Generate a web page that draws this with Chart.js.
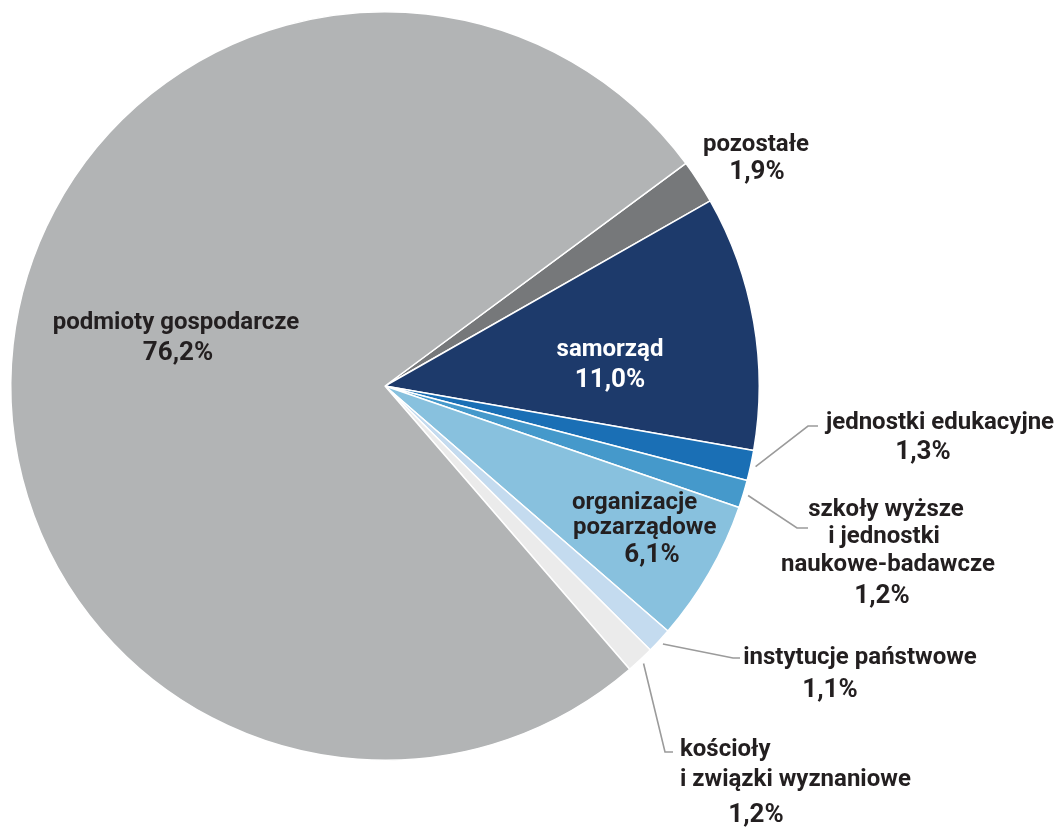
<!DOCTYPE html>
<html>
<head>
<meta charset="utf-8">
<script src="https://cdn.jsdelivr.net/npm/chart.js@4/dist/chart.umd.min.js"></script>
<style>
  html, body { margin: 0; padding: 0; background: #fff; }
  #wrap { width: 1062px; height: 831px; }
</style>
</head>
<body>
<div id="wrap"><canvas id="pie" width="1062" height="831"></canvas></div>
<script>
// dane (kolejność zgodnie z ruchem wskazówek zegara, od "pozostałe")
const categories = ['pozostałe', 'samorząd', 'jednostki edukacyjne', 'szkoły wyższe i jednostki naukowe-badawcze',
    'organizacje pozarządowe', 'instytucje państwowe', 'kościoły i związki wyznaniowe', 'podmioty gospodarcze'];
const shares = [1.9, 11.0, 1.3, 1.2, 6.1, 1.1, 1.2, 76.2];
const shareLabels = ['1,9%', '11,0%', '1,3%', '1,2%', '6,1%', '1,1%', '1,2%', '76,2%'];
const colors = ['#76787a', '#1d3a6b', '#1a6fb5', '#4599cb', '#88c1de', '#c4dbef', '#ebebeb', '#b2b4b5'];

// rozmieszczenie podpisów (linie tekstu, pozycje, linie odniesienia)
const labelSpots = [
    { lines: [['pozostałe', 756, 145], [shareLabels[0], 757, 172, 'center', 1]] },
    { lines: [['samorząd', 610, 350], [shareLabels[1], 610, 380, 'center', 1]], color: '#ffffff' },
    { lines: [['jednostki edukacyjne', 940, 423], [shareLabels[2], 923, 452, 'center', 1]], leader: [[808, 426], [818, 426]] },
    { lines: [['szkoły wyższe', 886, 510], ['i jednostki', 884, 537], ['naukowe-badawcze', 888, 565], [shareLabels[3], 882, 596, 'center', 1]],
      leader: [[797, 528], [808, 528]] },
    { lines: [['organizacje', 572, 503, 'left'], ['pozarządowe', 573, 528, 'left'], [shareLabels[4], 652, 555, 'center', 1]] },
    { lines: [['instytucje państwowe', 860, 658], [shareLabels[5], 830, 690, 'center', 1]], leader: [[733, 658], [740, 658]] },
    { lines: [['kościoły', 680, 750, 'left'], ['i związki wyznaniowe', 680, 780, 'left'], [shareLabels[6], 756, 815, 'center', 1]],
      leader: [[665, 752], [673, 752]] },
    { lines: [['podmioty gospodarcze', 176, 323], [shareLabels[7], 178, 353, 'center', 1]] }
];

const labelPlugin = {
    id: 'sliceLabels',
    afterDatasetsDraw(chart) {
        const ctx = chart.ctx;
        const arcs = chart.getDatasetMeta(0).data;
        ctx.save();
        arcs.forEach((arc, i) => {
            const spot = labelSpots[i];
            if (spot.leader) {
                const mid = (arc.startAngle + arc.endAngle) / 2;
                const r = arc.outerRadius + 5;
                ctx.beginPath();
                ctx.moveTo(arc.x + Math.cos(mid) * r, arc.y + Math.sin(mid) * r);
                spot.leader.forEach(p => ctx.lineTo(p[0], p[1]));
                ctx.strokeStyle = '#9b9b9b';
                ctx.lineWidth = 1.6;
                ctx.stroke();
            }
            ctx.fillStyle = spot.color || '#231f20';
            ctx.textBaseline = 'middle';
            spot.lines.forEach(l => {
                // procenty nieco większe
                ctx.font = l[4] ? 'bold 26px Roboto' : 'bold 24px Roboto';
                ctx.textAlign = l[3] || 'center';
                ctx.fillText(l[0], l[1], l[2]);
            });
        });
        ctx.restore();
    }
};

new Chart(document.getElementById('pie'), {
    type: 'pie',
    data: {
        labels: categories,
        datasets: [{
            data: shares,
            backgroundColor: colors,
            borderColor: '#ffffff',
            borderWidth: 1.5
        }]
    },
    options: {
        responsive: false,
        animation: false,
        devicePixelRatio: 1,
        rotation: 53.5,
        layout: { padding: { left: 10, top: 10, right: 302, bottom: 69 } },
        plugins: { legend: { display: false }, tooltip: { enabled: false } }
    },
    plugins: [labelPlugin]
});
</script>
</body>
</html>
